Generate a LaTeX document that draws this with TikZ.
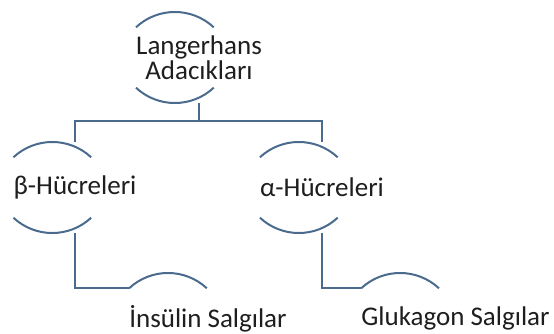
\documentclass[tikz,border=0pt]{standalone}
\usepackage{fontspec}
\setmainfont{Carlito}
\definecolor{lineblue}{HTML}{4A6A8E}
\definecolor{txt}{HTML}{1E1E1E}
\begin{document}
\begin{tikzpicture}[x=1pt,y=1pt,
  hub/.style={minimum width=78pt,minimum height=60pt,inner sep=0pt,align=center,
    text=txt,font=\fontsize{27}{25}\selectfont},
  conn/.style={draw=lineblue,line width=2pt},
]
\useasboundingbox (0,0) rectangle (554,333);
\node[hub] (L) at (199,275.5) {Langerhans\\Adacıkları};
\node[hub] (B) at (75,145.5) {β-Hücreleri};
\node[hub] (A) at (322,145.5) {α-Hücreleri};
\node[hub] (I) at (208,14.5) {İnsülin Salgılar};
\node[hub] (G) at (455.5,14.5) {Glukagon Salgılar};
\foreach \n in {L,B,A}{
  \draw[conn] (\n.north west) arc (133:47:57);
  \draw[conn] (\n.south west) arc (227:313:57);
}
\foreach \n in {I,G}{
  \draw[conn] (\n.north west) arc (133:47:57);
}
\coordinate (Lb) at ([yshift=-15.5pt]L.south);
\coordinate (Bt) at ([yshift=15.5pt]B.north);
\coordinate (At) at ([yshift=15.5pt]A.north);
\coordinate (Bb) at ([yshift=-15.5pt]B.south);
\coordinate (Ab) at ([yshift=-15.5pt]A.south);
\coordinate (bus) at (0,212);
\draw[conn] (Lb) -- (Lb |- bus);
\draw[conn] (Bt) -- (Bt |- bus) -- (At |- bus) -- (At);
\draw[conn] (Bb) |- (I.north west);
\draw[conn] (Ab) |- (G.north west);
\end{tikzpicture}
\end{document}
